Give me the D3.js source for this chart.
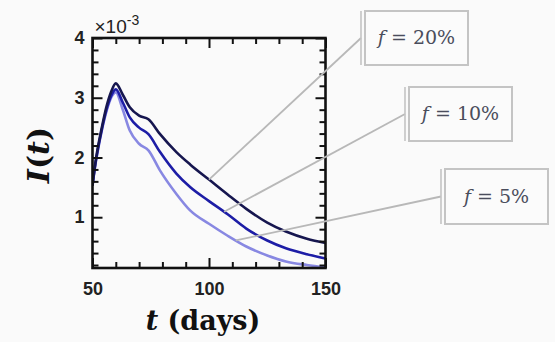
<!DOCTYPE html>
<html>
<head>
<meta charset="utf-8">
<script src="https://cdn.jsdelivr.net/npm/d3@7"></script>
<style>
  html, body { margin: 0; padding: 0; background: #fafafa; }
  svg { display: block; }
</style>
</head>
<body>
<div class="chart"></div>
<script>
// values (I in units of 1e-3)
const days = [50, 51, 52, 54, 56, 58, 60, 63, 66, 70, 74, 79, 86, 92, 100, 108, 116, 125, 133, 142, 150];
const f20 = [1.53, 1.85, 2.1, 2.5, 2.85, 3.1, 3.24, 3.05, 2.84, 2.7, 2.64, 2.39, 2.09, 1.88, 1.63, 1.38, 1.14, 0.91, 0.76, 0.64, 0.57];
const f10 = [1.53, 1.83, 2.07, 2.47, 2.8, 3.03, 3.14, 2.92, 2.67, 2.5, 2.39, 2.09, 1.73, 1.5, 1.27, 1.05, 0.81, 0.61, 0.48, 0.38, 0.31];
const f5  = [1.53, 1.82, 2.05, 2.45, 2.77, 3.0, 3.09, 2.8, 2.45, 2.23, 2.12, 1.78, 1.39, 1.11, 0.89, 0.69, 0.51, 0.36, 0.26, 0.2, 0.16];
const seriesLabels = ["20%", "10%", "5%"];
const annotationDays = [100, 106.5, 111.5];
const xTicks = [50, 100, 150];
const xMinor = [60, 70, 80, 90, 110, 120, 130, 140];
const yTicks = [1, 2, 3, 4];
const yMinor = [0.2, 0.4, 0.6, 0.8, 1.2, 1.4, 1.6, 1.8, 2.2, 2.4, 2.6, 2.8, 3.2, 3.4, 3.6, 3.8];

const WIDTH = 555, HEIGHT = 342;
const plot = {left: 92.5, right: 325.5, top: 38, bottom: 268};
const colors = ["#16164f", "#1d1da6", "#8888e2"];
const boxes = [
  {x: 365, y: 11, w: 103, h: 54},
  {x: 409, y: 87, w: 103, h: 54},
  {x: 445, y: 169, w: 103, h: 55}
];

const x = d3.scaleLinear().domain([50, 150]).range([plot.left, plot.right]);
const y = d3.scaleLinear().domain([0.15, 4]).range([plot.bottom, plot.top]);

const svg = d3.select(".chart").append("svg")
  .attr("width", WIDTH).attr("height", HEIGHT);

svg.append("rect").attr("width", WIDTH).attr("height", HEIGHT).attr("fill", "#fafafa");

const series = [f20, f10, f5].map((vals, i) => ({
  label: seriesLabels[i],
  color: colors[i],
  points: days.map((d, j) => ({t: d, v: vals[j]}))
}));

// curves
const line = d3.line().x(d => x(d.t)).y(d => y(d.v)).curve(d3.curveMonotoneX);
svg.append("defs").append("clipPath").attr("id", "clip")
  .append("rect").attr("x", plot.left).attr("y", plot.top)
  .attr("width", plot.right - plot.left).attr("height", plot.bottom - plot.top);

svg.append("g").attr("clip-path", "url(#clip)")
  .selectAll("path").data(series.slice().reverse()).enter()
  .append("path")
  .attr("d", d => line(d.points))
  .attr("fill", "none")
  .attr("stroke", d => d.color)
  .attr("stroke-width", 2.6)
  .attr("stroke-linejoin", "round");

// axes with inward ticks
function styleAxis(g) {
  g.select(".domain").remove();
  g.selectAll(".tick line").attr("stroke", "#111").attr("stroke-width", 2);
  g.selectAll(".tick text")
    .attr("fill", "#222")
    .attr("font-family", "'Liberation Sans', Arial, sans-serif")
    .attr("font-weight", "bold")
    .attr("font-size", 18);
}

const fmt = d3.format("d");
svg.append("g").attr("transform", `translate(0,${plot.bottom})`)
  .call(d3.axisBottom(x).tickValues(xTicks).tickFormat(fmt).tickSizeInner(-10).tickSizeOuter(0).tickPadding(14))
  .call(styleAxis);
svg.append("g").attr("transform", `translate(0,${plot.bottom})`)
  .call(d3.axisBottom(x).tickValues(xMinor).tickFormat("").tickSizeInner(-6).tickSizeOuter(0))
  .call(styleAxis);
svg.append("g").attr("transform", `translate(0,${plot.top})`)
  .call(d3.axisTop(x).tickValues(xTicks).tickFormat("").tickSizeInner(-10).tickSizeOuter(0))
  .call(styleAxis);
svg.append("g").attr("transform", `translate(0,${plot.top})`)
  .call(d3.axisTop(x).tickValues(xMinor).tickFormat("").tickSizeInner(-6).tickSizeOuter(0))
  .call(styleAxis);

svg.append("g").attr("transform", `translate(${plot.left},0)`)
  .call(d3.axisLeft(y).tickValues(yTicks).tickFormat(fmt).tickSizeInner(-10).tickSizeOuter(0).tickPadding(8))
  .call(styleAxis);
svg.append("g").attr("transform", `translate(${plot.left},0)`)
  .call(d3.axisLeft(y).tickValues(yMinor).tickFormat("").tickSizeInner(-6).tickSizeOuter(0))
  .call(styleAxis);
svg.append("g").attr("transform", `translate(${plot.right},0)`)
  .call(d3.axisRight(y).tickValues(yTicks).tickFormat("").tickSizeInner(-10).tickSizeOuter(0))
  .call(styleAxis);
svg.append("g").attr("transform", `translate(${plot.right},0)`)
  .call(d3.axisRight(y).tickValues(yMinor).tickFormat("").tickSizeInner(-6).tickSizeOuter(0))
  .call(styleAxis);

// frame
svg.append("rect")
  .attr("x", plot.left).attr("y", plot.top)
  .attr("width", plot.right - plot.left).attr("height", plot.bottom - plot.top)
  .attr("fill", "none").attr("stroke", "#111").attr("stroke-width", 2.6);

// exponent
const expo = svg.append("text")
  .attr("x", plot.left + 2).attr("y", 33)
  .attr("font-family", "'Liberation Sans', Arial, sans-serif")
  .attr("font-size", 19).attr("fill", "#222");
expo.append("tspan").text("×10");
expo.append("tspan").attr("dy", -8).attr("font-size", 14).text("-3");

// axis titles
const serif = "'DejaVu Serif', 'Liberation Serif', serif";
const xt = svg.append("text")
  .attr("x", (plot.left + plot.right) / 2 - 6).attr("y", 330)
  .attr("text-anchor", "middle")
  .attr("font-family", serif).attr("font-weight", "bold")
  .attr("font-size", 27).attr("fill", "#111");
xt.append("tspan").attr("font-style", "italic").text("t");
xt.append("tspan").text(" (days)");

const yt = svg.append("text")
  .attr("transform", `translate(49,${(plot.top + plot.bottom) / 2 + 2}) rotate(-90)`)
  .attr("text-anchor", "middle")
  .attr("font-family", serif).attr("font-weight", "bold").attr("font-style", "italic")
  .attr("font-size", 30).attr("fill", "#111");
yt.append("tspan").text("I");
yt.append("tspan").attr("font-style", "normal").text("(");
yt.append("tspan").text("t");
yt.append("tspan").attr("font-style", "normal").text(")");

// callouts
function valueAt(points, t) {
  const i = d3.bisector(d => d.t).left(points, t);
  const a = points[Math.max(i - 1, 0)], b = points[i];
  const k = (t - a.t) / (b.t - a.t);
  return a.v + (b.v - a.v) * k;
}

const call = svg.append("g").selectAll("g").data(series).enter().append("g");

call.append("line")
  .attr("x1", (d, i) => x(annotationDays[i]))
  .attr("y1", (d, i) => y(valueAt(d.points, annotationDays[i])))
  .attr("x2", (d, i) => boxes[i].x - 4)
  .attr("y2", (d, i) => boxes[i].y + boxes[i].h / 2)
  .attr("stroke", "#b8b8b8").attr("stroke-width", 1.8);

call.append("line")
  .attr("x1", (d, i) => boxes[i].x - 4).attr("x2", (d, i) => boxes[i].x - 4)
  .attr("y1", (d, i) => boxes[i].y).attr("y2", (d, i) => boxes[i].y + boxes[i].h)
  .attr("stroke", "#c4c4c4").attr("stroke-width", 1.6);

call.append("rect")
  .attr("x", (d, i) => boxes[i].x).attr("y", (d, i) => boxes[i].y)
  .attr("width", (d, i) => boxes[i].w).attr("height", (d, i) => boxes[i].h)
  .attr("fill", "#fbfbfb").attr("stroke", "#c4c4c4").attr("stroke-width", 2);

const lbl = call.append("text")
  .attr("x", (d, i) => boxes[i].x + boxes[i].w / 2)
  .attr("y", (d, i) => boxes[i].y + boxes[i].h / 2 + 6)
  .attr("text-anchor", "middle")
  .attr("font-family", serif)
  .attr("font-size", 19).attr("fill", "#4a4d5c");
lbl.append("tspan").attr("font-style", "italic").text("f");
lbl.append("tspan").text(d => " = " + d.label);
</script>
</body>
</html>
